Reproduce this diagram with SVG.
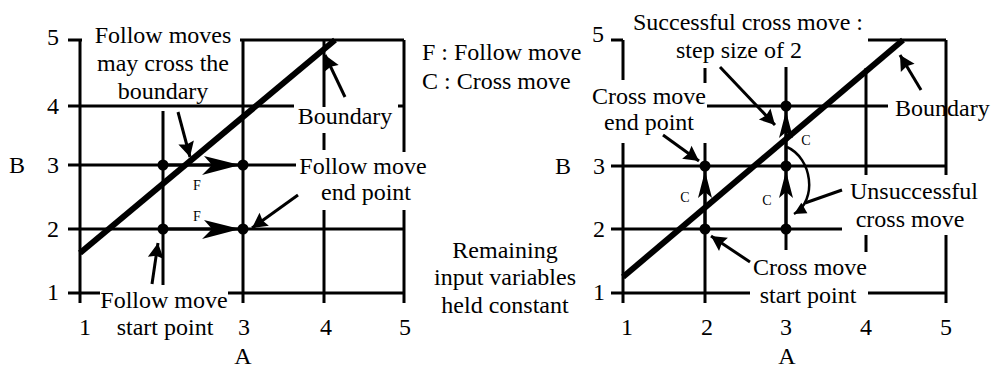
<svg xmlns="http://www.w3.org/2000/svg" width="992" height="369" viewBox="0 0 992 369">
<style>
.g{fill:none;stroke:#000;stroke-width:3}
.b{fill:none;stroke:#000;stroke-width:6}
.p{fill:none;stroke:#000;stroke-width:3;marker-end:url(#ph)}
.mv{fill:none;stroke:#000;stroke-width:3;marker-end:url(#mh)}
.cv{fill:none;stroke:#000;stroke-width:3;marker-end:url(#ch)}
.arc{fill:none;stroke:#000;stroke-width:2.5;marker-end:url(#ah)}
.t{font-family:"Liberation Serif","Times New Roman",serif;font-size:24px;fill:#000}
.m{text-anchor:middle}
.s{font-family:"Liberation Serif","Times New Roman",serif;font-size:14px;fill:#000;text-anchor:middle}
</style>
<defs>
<marker id="ph" markerUnits="userSpaceOnUse" orient="auto" markerWidth="20" markerHeight="20" refX="16" refY="10" viewBox="0 0 20 20"><path d="M16,10 L1,2 L3,10 L1,18 Z" fill="#000"/></marker>
<marker id="mh" markerUnits="userSpaceOnUse" orient="auto" markerWidth="42" markerHeight="24" refX="40" refY="12" viewBox="0 0 42 24"><path d="M40,12 L4,3 L12,12 L2,22 Z" fill="#000"/></marker>
<marker id="ch" markerUnits="userSpaceOnUse" orient="auto" markerWidth="32" markerHeight="18" refX="30" refY="9" viewBox="0 0 32 18"><path d="M30,9 L3,2 L9,9 L3,16 Z" fill="#000"/></marker>
<marker id="ah" markerUnits="userSpaceOnUse" orient="auto" markerWidth="16" markerHeight="16" refX="13" refY="8" viewBox="0 0 16 16"><path d="M13,8 L1,2 L1,14 Z" fill="#000"/></marker>
</defs>

<g id="left-grid">
<path class="g" d="M80,40 V303 M68,40 H82 M68,106 H80 M68,293 H100 M228,293 H404 M240,40 H404 M404,40 V152 M404,210 V303 M80,106 H294 M398,106 H404 M324,40 V107 M324,133 V150 M324,210 V303 M243,40 V303 M163,111 V285 M68,165 H296 M68,229 H404"/>
</g>
<g id="right-grid">
<path class="g" d="M623,40 V80 M623,143 V303 M611,40 H623 M611,293 H750 M868,293 H946 M868,40 H946 M946,40 V175 M946,235 V303 M707,106 H888 M705,68 V83 M705,143 V303 M786,67 V250 M866,68 V175 M866,235 V252 M611,166 H946 M611,229 H842"/>
</g>

<g id="left-boundary"><path class="b" d="M80,253 L335,40"/></g>
<g id="right-boundary"><path class="b" d="M623,277 L903,40"/></g>

<g id="connectors">
<path class="mv" d="M163,165 H240"/>
<path class="mv" d="M163,229 H240"/>
<path class="cv" d="M705,229 V171"/>
<path class="cv" d="M786,229 V171"/>
<path class="cv" d="M786,166 V111"/>
<path class="arc" d="M787,147 C812,158 818,200 794,214"/>
<path class="p" d="M178,112 L190,157"/>
<path class="p" d="M345,97 L325,55"/>
<path class="p" d="M298,195 L252,228"/>
<path class="p" d="M152,284 L158,243"/>
<path class="p" d="M720,67 L775,125"/>
<path class="p" d="M663,135 L699,161"/>
<path class="p" d="M921,90 L900,55"/>
<path class="p" d="M750,262 L711,236"/>
<path class="g" d="M842,190 L805,203"/>
</g>

<g id="points">
<circle cx="163" cy="165" r="5.5"/>
<circle cx="243" cy="165" r="5.5"/>
<circle cx="163" cy="229" r="5.5"/>
<circle cx="243" cy="229" r="5.5"/>
<circle cx="705" cy="166" r="5.5"/>
<circle cx="705" cy="229" r="5.5"/>
<circle cx="786" cy="106" r="5.5"/>
<circle cx="786" cy="166" r="5.5"/>
<circle cx="786" cy="229" r="5.5"/>
</g>

<g id="left-axes-labels">
<text class="t m" x="53" y="45">5</text>
<text class="t m" x="53" y="114">4</text>
<text class="t m" x="53" y="173">3</text>
<text class="t m" x="53" y="237">2</text>
<text class="t m" x="53" y="300">1</text>
<text class="t m" x="17" y="173">B</text>
<text class="t m" x="85" y="335">1</text>
<text class="t m" x="244" y="335">3</text>
<text class="t m" x="326" y="335">4</text>
<text class="t m" x="405" y="335">5</text>
<text class="t m" x="243" y="364">A</text>
<text class="s" x="197" y="190">F</text>
<text class="s" x="197" y="221">F</text>
</g>

<g id="label-follow-cross">
<text class="t m" x="163" y="43">Follow moves</text>
<text class="t m" x="163" y="71">may cross the</text>
<text class="t m" x="163" y="99">boundary</text>
</g>
<g id="label-boundary-left"><text class="t m" x="345" y="124">Boundary</text></g>
<g id="label-follow-end">
<text class="t m" x="363" y="174">Follow move</text>
<text class="t m" x="366" y="200">end point</text>
</g>
<g id="label-follow-start">
<text class="t m" x="164" y="308">Follow move</text>
<text class="t m" x="165" y="335">start point</text>
</g>

<g id="legend">
<text class="t" x="422" y="60">F : Follow move</text>
<text class="t" x="422" y="89">C : Cross move</text>
</g>
<g id="label-remaining">
<text class="t m" x="505" y="258">Remaining</text>
<text class="t m" x="505" y="285">input variables</text>
<text class="t m" x="505" y="313">held constant</text>
</g>

<g id="right-axes-labels">
<text class="t m" x="598" y="42">5</text>
<text class="t m" x="599" y="174">3</text>
<text class="t m" x="599" y="237">2</text>
<text class="t m" x="599" y="300">1</text>
<text class="t m" x="563" y="174">B</text>
<text class="t m" x="627" y="335">1</text>
<text class="t m" x="707" y="335">2</text>
<text class="t m" x="786" y="335">3</text>
<text class="t m" x="866" y="335">4</text>
<text class="t m" x="946" y="335">5</text>
<text class="t m" x="787" y="364">A</text>
<text class="s" x="685" y="202">C</text>
<text class="s" x="767" y="205">C</text>
<text class="s" x="806" y="145">C</text>
</g>

<g id="label-successful">
<text class="t m" x="748" y="30">Successful cross move :</text>
<text class="t m" x="739" y="58">step size of 2</text>
</g>
<g id="label-cross-end">
<text class="t m" x="649" y="104">Cross move</text>
<text class="t m" x="649" y="130">end point</text>
</g>
<g id="label-boundary-right"><text class="t" x="895" y="116">Boundary</text></g>
<g id="label-unsuccessful">
<text class="t m" x="914" y="199">Unsuccessful</text>
<text class="t m" x="910" y="227">cross move</text>
</g>
<g id="label-cross-start">
<text class="t m" x="810" y="275">Cross move</text>
<text class="t m" x="808" y="303">start point</text>
</g>
</svg>
